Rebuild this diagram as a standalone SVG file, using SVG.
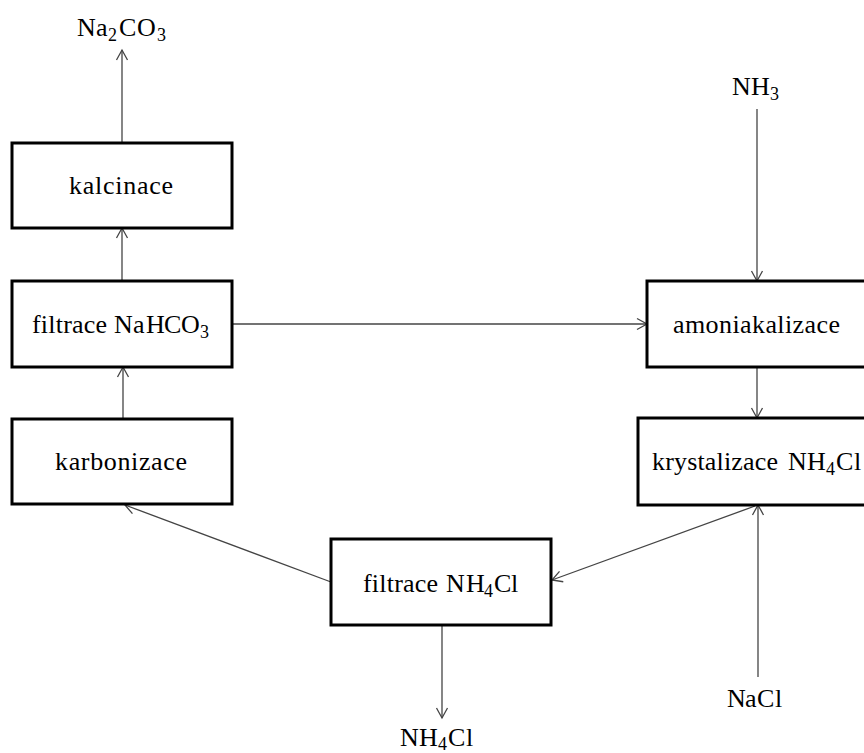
<svg xmlns="http://www.w3.org/2000/svg" width="864" height="753" viewBox="0 0 864 753">
<style>
.box{fill:#fff;stroke:#000;stroke-width:3}
.t{font-family:"Liberation Serif","Times New Roman",serif;font-size:26px;fill:#000}
.s{font-size:18px}
.c{stroke:#444;stroke-width:1.3;fill:none;marker-end:url(#ah)}
</style>
<defs>
<marker id="ah" markerUnits="userSpaceOnUse" markerWidth="14" markerHeight="14" viewBox="-12 -7 14 14" refX="0" refY="0" orient="auto">
<path d="M-10,-5.5 L0,0 L-10,5.5" fill="none" stroke="#444" stroke-width="1.3"/>
</marker>
</defs>
<rect width="864" height="753" fill="#fff"/>
<g id="connectors">
<line class="c" x1="122" y1="143" x2="122" y2="50"/>
<line class="c" x1="122" y1="281" x2="122" y2="228"/>
<line class="c" x1="123" y1="419" x2="123" y2="367"/>
<line class="c" x1="232" y1="324" x2="647" y2="324"/>
<line class="c" x1="757" y1="109" x2="757" y2="281"/>
<line class="c" x1="757" y1="367" x2="757" y2="418"/>
<line class="c" x1="758" y1="677" x2="758" y2="505"/>
<line class="c" x1="755" y1="506" x2="552" y2="580"/>
<line class="c" x1="331" y1="582" x2="125" y2="505"/>
<line class="c" x1="442" y1="625" x2="442" y2="718"/>
</g>
<g id="kalcinace">
<rect class="box" x="12" y="143" width="220" height="85"/>
<text class="t" x="69" y="194" textLength="104" lengthAdjust="spacing">kalcinace</text>
</g>
<g id="filtrace-nahco3">
<rect class="box" x="12" y="281" width="220" height="86"/>
<text class="t" y="333"><tspan x="32" textLength="75" lengthAdjust="spacing">filtrace</tspan><tspan x="114">N</tspan><tspan x="133">a</tspan><tspan x="146">H</tspan><tspan x="164">C</tspan><tspan x="181">O</tspan><tspan class="s" x="200" dy="5">3</tspan></text>
</g>
<g id="karbonizace">
<rect class="box" x="12" y="419" width="220" height="85"/>
<text class="t" x="55" y="470" textLength="132" lengthAdjust="spacing">karbonizace</text>
</g>
<g id="amoniakalizace">
<rect class="box" x="647" y="281" width="240" height="86"/>
<text class="t" x="673" y="333" textLength="167" lengthAdjust="spacing">amoniakalizace</text>
</g>
<g id="krystalizace">
<rect class="box" x="638" y="418" width="250" height="87"/>
<text class="t" y="470"><tspan x="652" textLength="126" lengthAdjust="spacing">krystalizace</tspan><tspan x="788">N</tspan><tspan x="807">H</tspan><tspan class="s" x="826" dy="5">4</tspan><tspan x="836" dy="-5">C</tspan><tspan x="854">l</tspan></text>
</g>
<g id="filtrace-nh4cl">
<rect class="box" x="331" y="539" width="220" height="86"/>
<text class="t" y="592"><tspan x="363" textLength="75" lengthAdjust="spacing">filtrace</tspan><tspan x="446">N</tspan><tspan x="466">H</tspan><tspan class="s" x="484" dy="5">4</tspan><tspan x="494" dy="-5">C</tspan><tspan x="511">l</tspan></text>
</g>
<g id="na2co3">
<text class="t" y="36"><tspan x="77">N</tspan><tspan x="96">a</tspan><tspan class="s" x="108" dy="5">2</tspan><tspan x="119" dy="-5">C</tspan><tspan x="137">O</tspan><tspan class="s" x="157" dy="5">3</tspan></text>
</g>
<g id="nh3">
<text class="t" y="95"><tspan x="732">N</tspan><tspan x="751">H</tspan><tspan class="s" x="770" dy="5">3</tspan></text>
</g>
<g id="nacl">
<text class="t" y="707"><tspan x="727">N</tspan><tspan x="745">a</tspan><tspan x="757">C</tspan><tspan x="775">l</tspan></text>
</g>
<g id="nh4cl">
<text class="t" y="746"><tspan x="400">N</tspan><tspan x="419">H</tspan><tspan class="s" x="438" dy="4">4</tspan><tspan x="448" dy="-4">C</tspan><tspan x="466">l</tspan></text>
</g>
</svg>
